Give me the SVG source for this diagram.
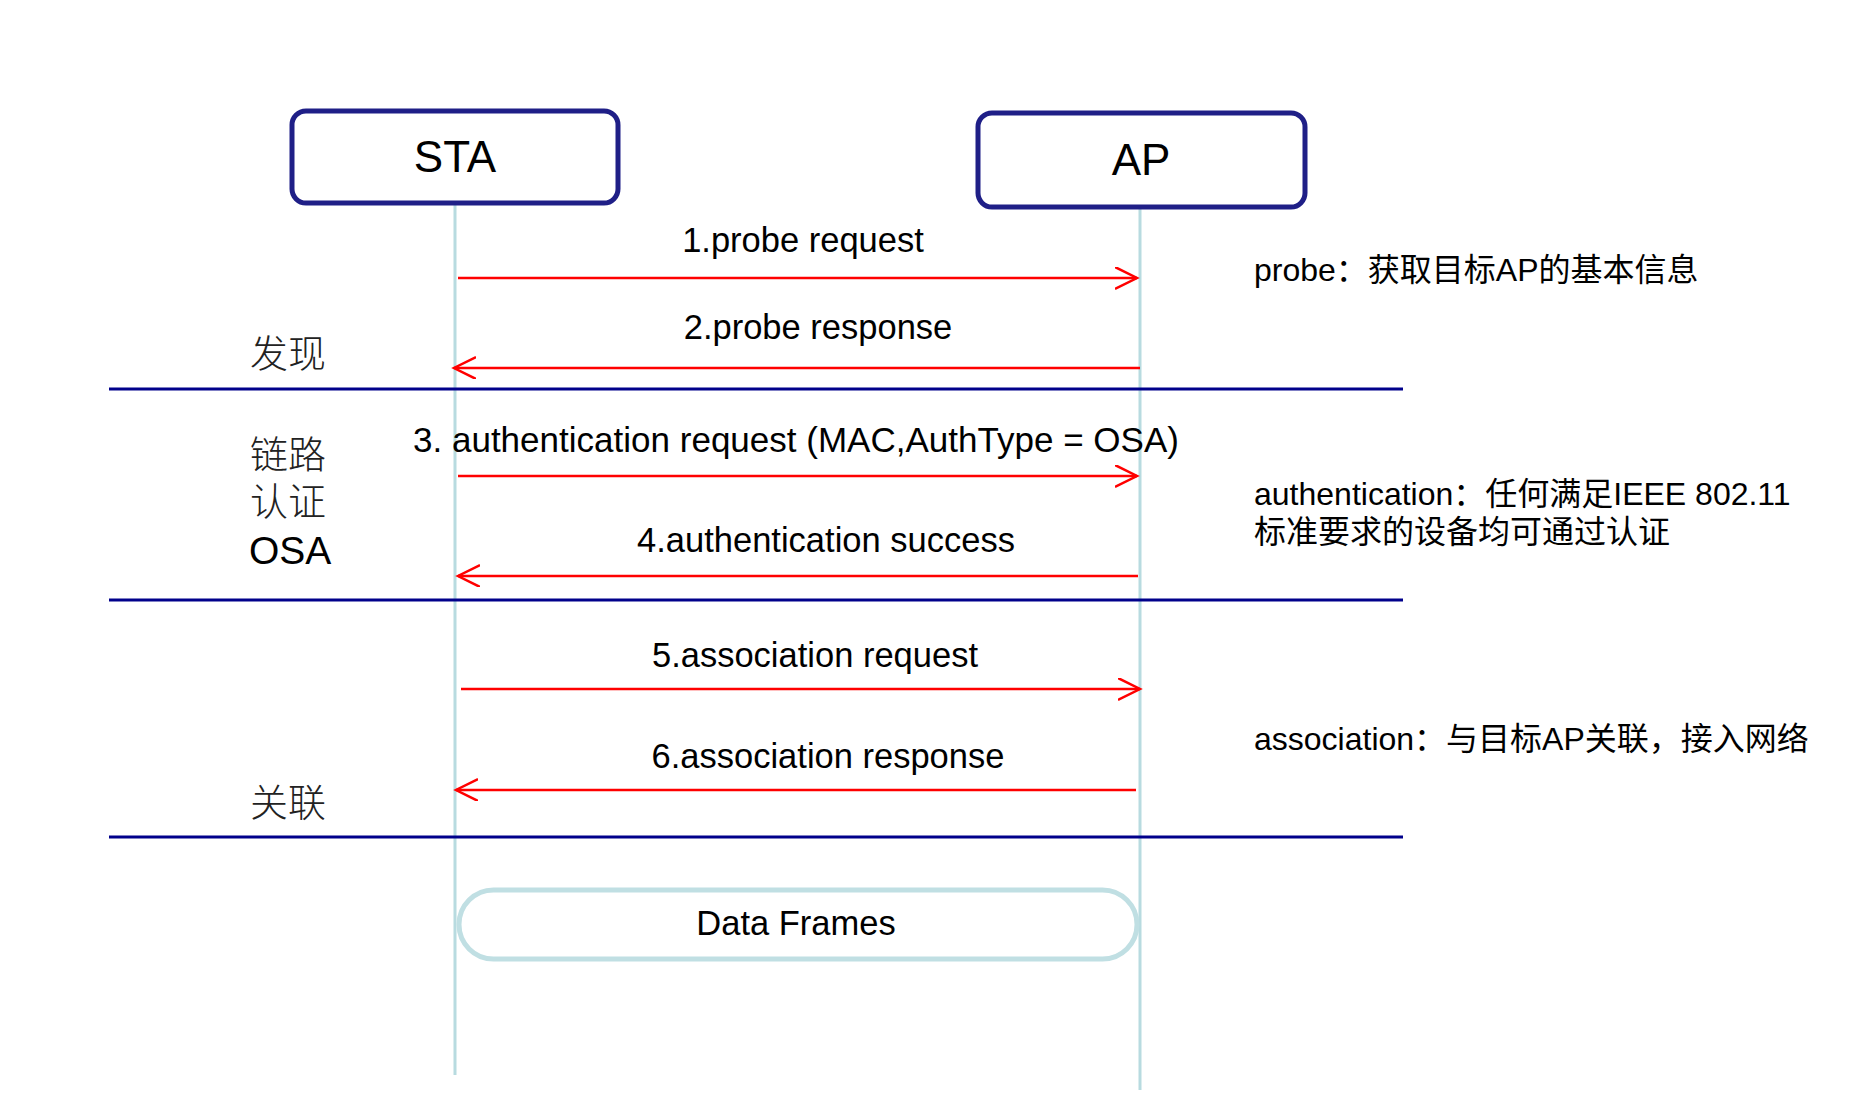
<svg xmlns="http://www.w3.org/2000/svg" width="1852" height="1114" viewBox="0 0 1852 1114">
  <style>
    .box{fill:#fff;stroke:#1f1f87;stroke-width:5}
    .life{stroke:#b8dbe0;stroke-width:3;fill:none}
    .msg{stroke:#ff0000;stroke-width:2.5;fill:none}
    .div{stroke:#00008b;stroke-width:3}
    .t{font-family:"Liberation Sans",Arial,"Noto Sans CJK SC",sans-serif;fill:#000}
    .lbl{font-size:34.5px;text-anchor:middle}
    .cjk{font-family:"Liberation Sans","Noto Sans CJK SC",sans-serif;font-weight:300;fill:#222}
  </style>
  <defs>
    <marker id="ah" markerUnits="userSpaceOnUse" markerWidth="26" markerHeight="26" refX="22" refY="11" orient="auto">
      <path d="M0,0 L22,11 L0,22" fill="none" stroke="#ff0000" stroke-width="2.5"/>
    </marker>
  </defs>
  <rect width="1852" height="1114" fill="#fff"/>

  <g id="lifelines">
    <line class="life" x1="455" y1="200" x2="455" y2="1075"/>
    <line class="life" x1="1140" y1="207" x2="1140" y2="1090"/>
  </g>

  <g id="node-sta">
    <rect class="box" x="292" y="111" width="326" height="92" rx="14"/>
    <text class="t" x="455" y="172" font-size="44" text-anchor="middle">STA</text>
  </g>
  <g id="node-ap">
    <rect class="box" x="978" y="113" width="327" height="94" rx="14"/>
    <text class="t" x="1141" y="175" font-size="44" text-anchor="middle">AP</text>
  </g>

  <g id="dividers">
    <line class="div" x1="109" y1="389" x2="1403" y2="389"/>
    <line class="div" x1="109" y1="600" x2="1403" y2="600"/>
    <line class="div" x1="109" y1="837" x2="1403" y2="837"/>
  </g>

  <g id="connectors">
    <line class="msg" x1="458" y1="278" x2="1137" y2="278" marker-end="url(#ah)"/>
    <line class="msg" x1="1140" y1="368" x2="454" y2="368" marker-end="url(#ah)"/>
    <line class="msg" x1="458" y1="476" x2="1137" y2="476" marker-end="url(#ah)"/>
    <line class="msg" x1="1138" y1="576" x2="458" y2="576" marker-end="url(#ah)"/>
    <line class="msg" x1="461" y1="689" x2="1140" y2="689" marker-end="url(#ah)"/>
    <line class="msg" x1="1136" y1="790" x2="456" y2="790" marker-end="url(#ah)"/>
  </g>

  <g id="message-labels">
    <text class="t lbl" x="803" y="252">1.probe request</text>
    <text class="t lbl" x="818" y="339">2.probe response</text>
    <text class="t" x="413" y="452" font-size="34.5" textLength="766" lengthAdjust="spacingAndGlyphs">3. authentication request (MAC,AuthType = OSA)</text>
    <text class="t lbl" x="826" y="552">4.authentication success</text>
    <text class="t lbl" x="815" y="667">5.association request</text>
    <text class="t lbl" x="828" y="768">6.association response</text>
  </g>

  <g id="phase-labels">
    <text class="t cjk" x="250" y="367" font-size="38">发现</text>
    <text class="t cjk" x="250" y="468" font-size="38">链路</text>
    <text class="t cjk" x="250" y="515" font-size="38">认证</text>
    <text class="t" x="249" y="564" font-size="39">OSA</text>
    <text class="t cjk" x="250" y="816" font-size="38">关联</text>
  </g>

  <g id="node-data-frames">
    <rect x="459" y="890" width="678" height="69" rx="34.5" fill="#fff" stroke="#c0dfe3" stroke-width="5"/>
    <text class="t lbl" x="796" y="935">Data Frames</text>
  </g>

  <g id="notes" class="t" font-size="32">
    <text x="1254" y="281">probe：获取目标AP的基本信息</text>
    <text x="1254" y="505">authentication：任何满足IEEE 802.11</text>
    <text x="1254" y="543">标准要求的设备均可通过认证</text>
    <text x="1254" y="750">association：与目标AP关联，接入网络</text>
  </g>
</svg>
